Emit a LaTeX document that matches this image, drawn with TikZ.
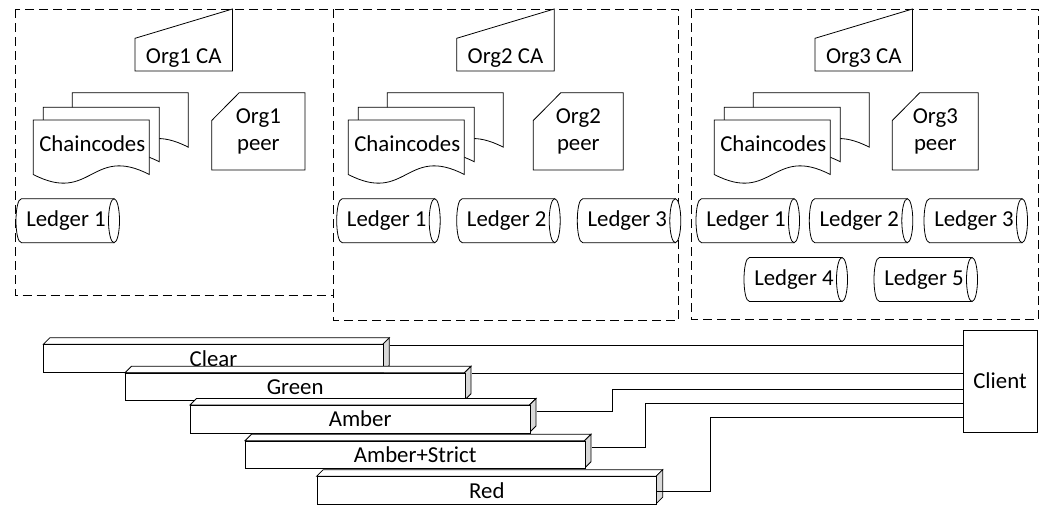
\documentclass[tikz,border=0pt]{standalone}
\usepackage{fontspec}
\setmainfont{Carlito}
\usetikzlibrary{calc}
\tikzset{
  shp/.style={draw=black, fill=white, line width=0.8pt, line join=miter},
  sideface/.style={draw=black, fill=black!15, line width=0.8pt},
  grp/.style={draw=black, line width=0.8pt, dash pattern=on 9pt off 5pt},
  wire/.style={draw=black, line width=0.8pt},
  lbl/.style={inner sep=0pt, font=\fontsize{22.8}{27.5}\selectfont},
}
% Org CA (manual input shape): name, left, text
\newcommand\cashape[3]{%
  \draw[shp] (#2,71) -- (#2,38.3) -- (#2+97.5,9) -- (#2+97.5,71) -- cycle;
  \node[lbl] (#1) at (#2+48.75,58.5) {#3};}
% peer (card shape): name, left, width, text
\newcommand\peershape[4]{%
  \draw[shp] (#2+27.5,92.7) -- (#2+#3,92.7) -- (#2+#3,170) -- (#2,170) -- (#2,120.5) -- cycle;
  \node[lbl, align=center] (#1) at (#2+#3/2,131.5) {#4};}
% single document: left, top
\newcommand\docshape[2]{%
  \draw[shp] (#1,#2) -- (#1+116,#2) -- (#1+116,#2+54.5)
    .. controls (#1+58,#2+24.5) and (#1+58,#2+84.5) .. (#1,#2+54.5) -- cycle;}
% multi document: name, front left
\newcommand\chainshape[2]{%
  \docshape{#2+39}{92.7}
  \docshape{#2+10}{107.3}
  \docshape{#2}{120}
  \node[lbl] (#1) at (#2+59,144) {Chaincodes};}
% ledger (horizontal cylinder): name, left, centre y, text
\newcommand\ledgershape[4]{%
  \draw[shp] (#2+5.5,#3-22) -- (#2+98,#3-22) -- (#2+98,#3+22) -- (#2+5.5,#3+22)
    .. controls (#2-1.83,#3+22) and (#2-1.83,#3-22) .. (#2+5.5,#3-22) -- cycle;
  \draw[shp] (#2+98,#3) ellipse [x radius=5.5pt, y radius=22pt];
  \node[lbl] (#1) at (#2+50,#3) {#4};}
% 3-D bar: name, left, top, text
\newcommand\tierbar[4]{%
  \draw[shp] (#2,#3) -- (#2+6.5,#3-6.5) -- (#2+346,#3-6.5) -- (#2+339.5,#3) -- cycle;
  \draw[sideface] (#2+339.5,#3) -- (#2+346,#3-6.5) -- (#2+346,#3+21) -- (#2+339.5,#3+27.5) -- cycle;
  \node[shp, lbl, anchor=north west, minimum width=339.5pt, minimum height=27.5pt] (#1) at (#2,#3) {#4};}
\begin{document}
\begin{tikzpicture}[x=1pt,y=-1pt]
\useasboundingbox (0,0) rectangle (1043,504);
% organisation groups
\draw[grp] (15,9) rectangle (333,295.5);
\draw[grp] (333,9) rectangle (678.5,320);
\draw[grp] (691.5,9) rectangle (1038,319.5);
% Org1
\cashape{ca1}{135}{Org1 CA}
\chainshape{cc1}{33.3}
\peershape{peer1}{211.7}{93.3}{Org1\\peer}
\ledgershape{l11}{16}{220.7}{Ledger 1}
% Org2
\cashape{ca2}{456.7}{Org2 CA}
\chainshape{cc2}{348.3}
\peershape{peer2}{533.3}{90}{Org2\\peer}
\ledgershape{l21}{336.7}{220.7}{Ledger 1}
\ledgershape{l22}{456.7}{220.7}{Ledger 2}
\ledgershape{l23}{577.3}{220.7}{Ledger 3}
% Org3
\cashape{ca3}{815}{Org3 CA}
\chainshape{cc3}{714.3}
\peershape{peer3}{892.3}{86}{Org3\\peer}
\ledgershape{l31}{696}{220.7}{Ledger 1}
\ledgershape{l32}{809.3}{220.7}{Ledger 2}
\ledgershape{l33}{924}{220.7}{Ledger 3}
\ledgershape{l34}{744}{279.5}{Ledger 4}
\ledgershape{l35}{874}{279.5}{Ledger 5}
% channels
\tierbar{clear}{43.3}{344.3}{Clear}
\tierbar{green}{125}{372.7}{Green}
\tierbar{amber}{190}{405}{Amber}
\tierbar{amberstrict}{245}{440.7}{Amber+Strict}
\tierbar{red}{316.7}{476.2}{Red}
% client
\node[shp, lbl, minimum width=74pt, minimum height=102pt] (client) at (1000,381) {Client};
% connectors
\draw[wire] (clear.north east) ++(6.5,0.7) -- (client.west |- 0,345);
\draw[wire] (green.north east) ++(6.5,0.6) -- (client.west |- 0,373.3);
\draw[wire] (amber.north east) ++(6.5,6.7) -| (611.9,389) -- (client.west |- 0,389);
\draw[wire] (amberstrict.north east) ++(6.5,6.6) -| (645.6,403.3) -- (client.west |- 0,403.3);
\draw[wire] (red.north east) ++(0,14.8) -| (710,417.7) -- (client.west |- 0,417.7);
\end{tikzpicture}
\end{document}
